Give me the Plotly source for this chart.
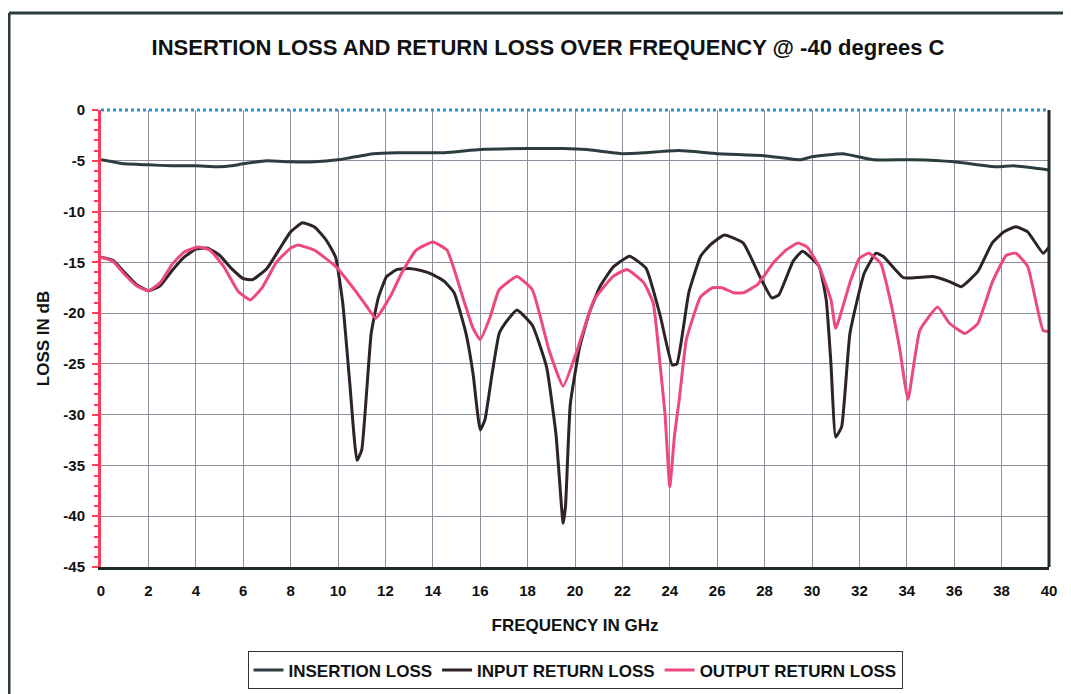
import plotly.graph_objects as go

# ---- data ----
il_freq = [0, 0.5, 1, 2, 3, 4, 5, 5.5, 6, 7, 8, 9, 10, 10.5, 11.5, 12.5, 14.5, 16, 18, 19.5,
           20.5, 22, 23, 24.4, 26, 28, 29.5, 30, 31.3, 32.6, 34.3, 36, 37.8, 38.5, 40]
il_vals = [-4.9, -5.1, -5.3, -5.4, -5.5, -5.5, -5.6, -5.5, -5.3, -5.0, -5.1, -5.1, -4.9, -4.7, -4.3,
           -4.2, -4.2, -3.9, -3.8, -3.8, -3.9, -4.3, -4.2, -4.0, -4.3, -4.5, -4.9, -4.6, -4.3, -4.9,
           -4.9, -5.1, -5.6, -5.5, -5.9]

irl_freq = [0, 0.5, 1, 1.5, 2, 2.5, 3, 3.5, 4, 4.5, 5, 5.5, 6, 6.4, 7, 7.5, 8, 8.5, 9, 9.5, 9.9,
            10.2, 10.5, 10.8, 11.0, 11.2, 11.4, 11.7, 12.05, 12.5, 13.0, 13.5, 14.0, 14.5, 14.9,
            15.4, 15.7, 16.0, 16.2, 16.5, 16.8, 17.05, 17.55, 18.2, 18.8, 19.2, 19.5, 19.6, 19.8,
            20.2, 20.6, 21.05, 21.6, 22.3, 23.0, 23.6, 24.1, 24.3, 24.8, 25.3, 25.7, 26.3, 27.1,
            27.8, 28.3, 28.6, 29.2, 29.6, 30.3, 30.6, 30.8, 31.0, 31.25, 31.6, 32.2, 32.7, 33.0,
            33.85, 34.4, 35.1, 35.8, 36.3, 37.0, 37.6, 38.1, 38.6, 39.1, 39.75, 40]
irl_vals = [-14.5, -14.8, -16.0, -17.2, -17.8, -17.3, -15.8, -14.5, -13.7, -13.6, -14.3, -15.6,
            -16.6, -16.7, -15.6, -13.8, -12.0, -11.1, -11.5, -12.8, -14.5, -19.0, -27.0, -34.5,
            -33.5, -28.0, -22.0, -18.5, -16.4, -15.7, -15.6, -15.8, -16.2, -16.9, -18.0, -22.0,
            -26.0, -31.5, -30.5, -26.0, -22.0, -21.0, -19.7, -21.2, -25.3, -32.0, -40.7, -39.0,
            -29.0, -23.3, -20.0, -17.4, -15.5, -14.4, -15.6, -20.3, -25.1, -25.0, -18.0, -14.4,
            -13.3, -12.3, -13.1, -16.4, -18.5, -18.2, -14.9, -13.9, -15.4, -18.7, -25.0, -32.2,
            -31.2, -22.0, -16.1, -14.1, -14.4, -16.5, -16.5, -16.4, -16.9, -17.4, -15.9, -13.1,
            -12.0, -11.5, -12.0, -14.1, -13.5]

orl_freq = [0, 0.5, 1, 1.5, 2, 2.5, 3, 3.5, 4.1, 4.6, 5.2, 5.8, 6.3, 6.8, 7.4, 8.0, 8.3, 9.0, 9.9,
            10.7, 11.2, 11.6, 12.2, 12.7, 13.3, 14.0, 14.6, 15.3, 15.7, 16.0, 16.4, 16.8, 17.55,
            18.2, 18.9, 19.5, 20.1, 20.8, 21.6, 22.2, 22.9, 23.3, 23.6, 23.8, 24.0, 24.2, 24.4,
            24.7, 25.3, 25.8, 26.2, 26.7, 27.1, 27.7, 28.35, 28.9, 29.4, 29.8, 30.3, 30.8, 31.0,
            31.6, 32.0, 32.4, 32.9, 33.3, 33.7, 34.05, 34.55, 35.3, 35.8, 36.45, 37.0, 37.6,
            38.2, 38.6, 39.1, 39.75, 40]
orl_vals = [-14.5, -14.9, -16.2, -17.3, -17.8, -17.0, -15.2, -14.0, -13.5, -13.8, -15.5, -17.9,
            -18.7, -17.5, -15.0, -13.6, -13.3, -13.8, -15.4, -17.7, -19.3, -20.5, -18.4, -16.0,
            -13.8, -13.0, -13.8, -18.7, -21.5, -22.6, -20.5, -17.7, -16.4, -17.7, -23.6, -27.2,
            -23.6, -18.7, -16.4, -15.7, -17.0, -19.0, -25.3, -30.0, -37.1, -32.0, -28.5, -22.6,
            -18.4, -17.5, -17.5, -18.0, -18.0, -17.2, -15.1, -13.8, -13.1, -13.5, -15.4, -18.7,
            -21.5, -17.0, -14.6, -14.1, -15.1, -18.7, -23.5, -28.5, -21.7, -19.4, -21.0, -22.0,
            -21.0, -17.0, -14.3, -14.1, -15.4, -21.7, -21.8]

x_ticks = list(range(0, 41, 2))
y_ticks = list(range(0, -46, -5))

FONT = "Liberation Sans, Arial, sans-serif"
TXT = "#111111"

fig = go.Figure()
fig.add_trace(go.Scatter(x=il_freq, y=il_vals, name="<b>INSERTION LOSS</b>", mode="lines",
                         line=dict(color="#2c3d40", width=3, shape="spline", smoothing=0.4)))
fig.add_trace(go.Scatter(x=irl_freq, y=irl_vals, name="<b>INPUT RETURN LOSS</b>", mode="lines",
                         line=dict(color="#2e2329", width=3, shape="spline", smoothing=0.4)))
fig.add_trace(go.Scatter(x=orl_freq, y=orl_vals, name="<b>OUTPUT RETURN LOSS</b>", mode="lines",
                         line=dict(color="#ec4a7c", width=3, shape="spline", smoothing=0.4)))

fig.update_layout(
    width=1063, height=686,
    margin=dict(l=93, r=22, t=102, b=127),
    paper_bgcolor="white", plot_bgcolor="white",
    font=dict(family=FONT, color=TXT),
    title=dict(text="<b>INSERTION LOSS AND RETURN LOSS OVER FREQUENCY @ -40 degrees C</b>",
               x=0.508, xanchor="center", y=0.943, yanchor="middle",
               font=dict(size=22, family=FONT, color=TXT)),
    showlegend=True,
    legend=dict(orientation="h", x=0.5, xanchor="center", xref="paper",
                y=0.062, yanchor="top", yref="container",
                bordercolor="#333333", borderwidth=1, bgcolor="white",
                font=dict(size=17, family=FONT, color=TXT), tracegroupgap=0),
)

fig.update_xaxes(
    range=[0, 40], tickvals=x_ticks, ticktext=["<b>%d</b>" % v for v in x_ticks],
    showgrid=True, gridcolor="#8e8e9e", gridwidth=1,
    showline=True, linecolor="#1f2a2a", linewidth=3,
    ticks="", zeroline=False, ticklabelstandoff=8,
    tickfont=dict(size=15, family=FONT, color=TXT),
    title=dict(text="<b>FREQUENCY IN GHz</b>", font=dict(size=17, family=FONT, color=TXT),
               standoff=22),
)
fig.update_yaxes(
    range=[-45, 0], tickvals=y_ticks, ticktext=["<b>%d</b>" % v for v in y_ticks],
    showgrid=True, gridcolor="#8e8e9e", gridwidth=1,
    showline=True, linecolor="#ff3b5c", linewidth=3,
    ticks="outside", tickcolor="#ff3b5c", ticklen=6, tickwidth=2, ticklabelstandoff=4,
    minor=dict(dtick=1, ticks="outside", ticklen=4, tickcolor="#ff3b5c", tickwidth=2, showgrid=False),
    zeroline=False,
    tickfont=dict(size=15, family=FONT, color=TXT),
    title=dict(text="<b>LOSS IN dB</b>", font=dict(size=17, family=FONT, color=TXT),
               standoff=10),
)

# plot-area top (blue) and right (dark) borders, and outer frame
fig.add_shape(type="line", xref="paper", yref="paper", x0=0, x1=1, y0=1, y1=1,
              line=dict(color="#2f8fd0", width=3, dash="dot"))
fig.add_shape(type="line", xref="paper", yref="paper", x0=1, x1=1, y0=0, y1=1,
              line=dict(color="#1f2a2a", width=3))
fig.add_shape(type="line", xref="paper", yref="paper", x0=-0.097, x1=1.03, y0=1.212, y1=1.212,
              line=dict(color="#2a3a40", width=3))
fig.add_shape(type="line", xref="paper", yref="paper", x0=-0.097, x1=-0.097, y0=-0.28, y1=1.212,
              line=dict(color="#2a3a40", width=3))

fig.write_html("out.html")
